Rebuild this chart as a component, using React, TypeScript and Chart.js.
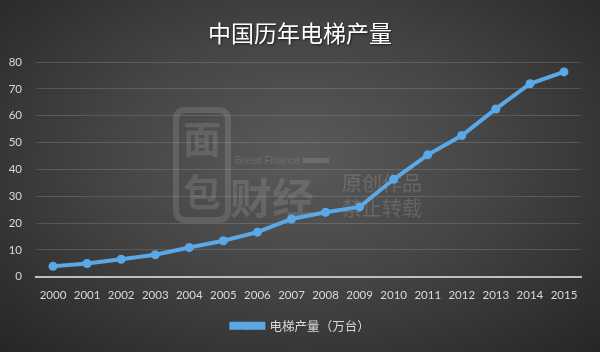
import React, { useEffect, useRef } from "react";
import { Chart, registerables } from "chart.js";

Chart.register(...registerables);

const TITLE = "中国历年电梯产量";
const SERIES_NAME = "电梯产量（万台）";
const YEARS = ["2000","2001","2002","2003","2004","2005","2006","2007","2008","2009","2010","2011","2012","2013","2014","2015"];
const OUTPUT = [3.9, 4.9, 6.5, 8.2, 10.9, 13.4, 16.6, 21.5, 24.0, 26.0, 36.3, 45.4, 52.6, 62.5, 71.9, 76.3];
const Y_MIN = 0;
const Y_MAX = 80;
const Y_STEP = 10;

const LINE_COLOR = "#5aa8e6";

function roundRect(ctx: CanvasRenderingContext2D, x: number, y: number, w: number, h: number, r: number) {
  ctx.beginPath();
  ctx.moveTo(x + r, y);
  ctx.lineTo(x + w - r, y);
  ctx.quadraticCurveTo(x + w, y, x + w, y + r);
  ctx.lineTo(x + w, y + h - r);
  ctx.quadraticCurveTo(x + w, y + h, x + w - r, y + h);
  ctx.lineTo(x + r, y + h);
  ctx.quadraticCurveTo(x, y + h, x, y + h - r);
  ctx.lineTo(x, y + r);
  ctx.quadraticCurveTo(x, y, x + r, y);
  ctx.closePath();
}

export default function App() {
  const ref = useRef<HTMLCanvasElement | null>(null);

  useEffect(() => {
    const canvas = ref.current;
    if (!canvas) return;

    const decor = {
      id: "decor",
      afterLayout(chart: any) {
        const lg = chart.legend;
        if (lg) {
          lg.left += 10;
          lg.right += 10;
        }
      },
      beforeDatasetsDraw(chart: any) {
        const ctx = chart.ctx as CanvasRenderingContext2D;
        ctx.save();
        const wm = "rgba(255,255,255,0.12)";
        ctx.strokeStyle = wm;
        ctx.fillStyle = wm;
        ctx.lineWidth = 6;
        roundRect(ctx, 176, 110, 52, 110, 10);
        ctx.stroke();
        ctx.textAlign = "center";
        ctx.textBaseline = "middle";
        ctx.font = "bold 38px 'Noto Sans CJK SC'";
        ctx.fillText("面", 202, 139);
        ctx.fillText("包", 202, 192);
        ctx.textAlign = "left";
        ctx.font = "bold 42px 'Noto Sans CJK SC'";
        ctx.fillText("财经", 230, 198);
        ctx.font = "10px 'Liberation Sans'";
        ctx.fillText("Bread Finance", 235, 161);
        ctx.fillRect(303, 158, 26, 5);
        ctx.fillStyle = "rgba(255,255,255,0.14)";
        ctx.font = "20px 'Noto Sans CJK SC'";
        ctx.fillText("原创作品", 342, 183);
        ctx.fillText("禁止转载", 342, 208);
        ctx.restore();
      },
      afterDraw(chart: any) {
        const ctx = chart.ctx;
        ctx.save();
        ctx.font = "23px 'Noto Sans CJK SC'";
        ctx.textAlign = "center";
        ctx.textBaseline = "middle";
        ctx.shadowColor = "rgba(0,0,0,0.6)";
        ctx.shadowBlur = 2;
        ctx.shadowOffsetX = 1;
        ctx.shadowOffsetY = 1;
        ctx.fillStyle = "#ffffff";
        ctx.fillText(TITLE, 300, 33);
        ctx.restore();
        const legend = chart.legend;
        if (legend && legend.legendHitBoxes && legend.legendHitBoxes.length) {
          const hb = legend.legendHitBoxes[0];
          const bw = legend.options.labels.boxWidth;
          const cx = hb.left + bw / 2;
          const cy = hb.top + hb.height / 2;
          ctx.save();
          ctx.fillStyle = LINE_COLOR;
          ctx.beginPath();
          ctx.arc(cx, cy, 4, 0, Math.PI * 2);
          ctx.fill();
          ctx.restore();
        }
      },
    };

    const chart = new Chart(canvas, {
      type: "line",
      data: {
        labels: YEARS,
        datasets: [
          {
            label: SERIES_NAME,
            data: OUTPUT,
            borderColor: LINE_COLOR,
            backgroundColor: LINE_COLOR,
            borderWidth: 4,
            pointRadius: 4.5,
            pointBackgroundColor: LINE_COLOR,
            pointBorderColor: LINE_COLOR,
            pointBorderWidth: 0,
            tension: 0,
          },
        ],
      },
      options: {
        responsive: false,
        animation: false,
        layout: { padding: { top: 62, right: 19, left: 0, bottom: 10 } },
        plugins: {
          title: { display: false },
          tooltip: { enabled: false },
          legend: {
            position: "bottom",
            labels: {
              color: "#d9d9d9",
              font: { family: "'Noto Sans CJK SC'", size: 12.5 },
              boxWidth: 32,
              boxHeight: 4,
              padding: 5,
            },
          },
        },
        scales: {
          x: {
            offset: true,
            grid: { display: false, drawTicks: false },
            border: { display: true, color: "#bfbfbf", width: 2 },
            ticks: {
              color: "#d9d9d9",
              font: { family: "Lato", size: 11.5 },
              padding: 12,
              maxRotation: 0,
              autoSkip: false,
            },
          },
          y: {
            min: Y_MIN,
            max: Y_MAX,
            afterFit(scale: any) {
              scale.width = 36;
            },
            grid: { color: "rgba(255,255,255,0.14)", drawTicks: false, lineWidth: 1 },
            border: { display: false },
            ticks: {
              stepSize: Y_STEP,
              color: "#d9d9d9",
              font: { family: "Lato", size: 11.5 },
              padding: 14,
            },
          },
        },
      },
      plugins: [decor],
    } as any);

    return () => chart.destroy();
  }, []);

  return (
    <div
      style={{
        position: "fixed",
        left: 0,
        top: 0,
        width: 600,
        height: 352,
        background:
          "radial-gradient(ellipse at 50% 45%, #5a5a5a 0%, #454545 45%, #2e2e2e 85%, #262626 100%)",
      }}
    >
      <canvas ref={ref} width={600} height={352} style={{ display: "block" }} />
    </div>
  );
}
